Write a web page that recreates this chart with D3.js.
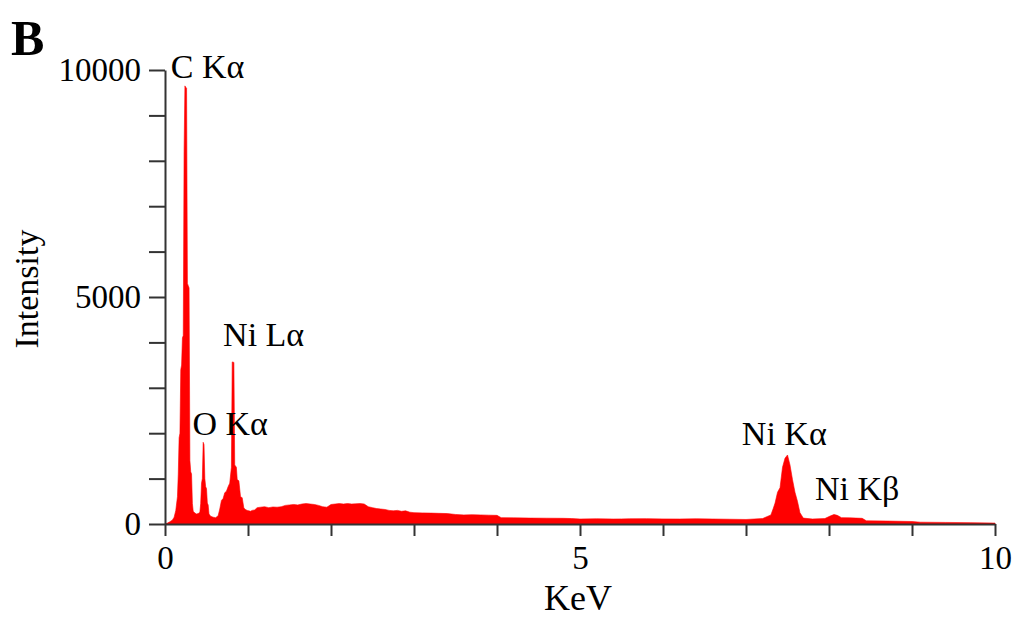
<!DOCTYPE html>
<html>
<head>
<meta charset="utf-8">
<script src="https://cdn.jsdelivr.net/npm/d3@7"></script>
<style>
  html, body { margin: 0; padding: 0; background: #fff; }
  svg { display: block; font-family: "Liberation Serif", "Times New Roman", serif; }
</style>
</head>
<body>
<svg id="chart" width="1016" height="618"></svg>
<script>
// EDS spectrum: energy (keV) and counts per channel
const energy = [
  0.00, 0.03, 0.06, 0.09, 0.11, 0.13, 0.15, 0.16, 0.17, 0.18,
  0.19, 0.20, 0.21, 0.22, 0.23, 0.24, 0.25, 0.26, 0.27, 0.28,
  0.29, 0.30, 0.31, 0.32, 0.33, 0.34, 0.36, 0.38, 0.40, 0.42,
  0.43, 0.44, 0.45, 0.46, 0.47, 0.48, 0.49, 0.50, 0.51, 0.52,
  0.53, 0.55, 0.58, 0.61, 0.64, 0.66, 0.68, 0.70, 0.72, 0.74,
  0.76, 0.78, 0.80, 0.81, 0.83, 0.84, 0.86, 0.87, 0.89, 0.91,
  0.93, 0.95, 0.97, 0.99, 1.01, 1.03, 1.05, 1.08, 1.11, 1.15,
  1.20, 1.25, 1.30, 1.35, 1.40, 1.45, 1.50, 1.55, 1.60, 1.65,
  1.70, 1.75, 1.80, 1.85, 1.90, 1.95, 2.00, 2.05, 2.10, 2.15,
  2.20, 2.25, 2.30, 2.35, 2.40, 2.45, 2.50, 2.55, 2.60, 2.65,
  2.70, 2.75, 2.80, 2.85, 2.90, 2.95, 3.00, 3.10, 3.20, 3.30,
  3.40, 3.50, 3.60, 3.70, 3.80, 3.90, 4.00, 4.05, 4.20, 4.40,
  4.60, 4.80, 4.90, 5.00, 5.20, 5.40, 5.50, 5.60, 5.80, 6.00,
  6.20, 6.40, 6.60, 6.80, 7.00, 7.20, 7.30, 7.33, 7.35, 7.38,
  7.41, 7.44, 7.47, 7.50, 7.53, 7.56, 7.59, 7.62, 7.65, 7.69,
  7.80, 7.95, 8.02, 8.06, 8.10, 8.15, 8.25, 8.40, 8.45, 8.70,
  9.00, 9.10, 9.40, 9.70, 10.00
];
const counts = [
  0, 20, 50, 90, 150, 300, 600, 1100, 1900, 2000,
  3400, 3500, 4100, 4150, 8200, 9650, 9620, 9600, 5300, 5250,
  5200, 1400, 1150, 1100, 450, 280, 240, 220, 230, 260,
  450, 900, 1000, 1800, 1750, 1000, 820, 780, 460, 420,
  220, 170, 150, 140, 180, 330, 520, 560, 690, 720,
  820, 900, 1250, 3570, 3560, 1300, 1250, 980, 950, 600,
  580, 350, 320, 300, 290, 280, 300, 310, 360, 370,
  380, 360, 375, 370, 380, 410, 420, 430, 420, 440,
  450, 440, 430, 410, 380, 370, 430, 440, 450, 440,
  450, 440, 445, 450, 440, 380, 360, 340, 330, 320,
  300, 290, 300, 280, 290, 260, 250, 245, 240, 235,
  230, 210, 200, 205, 200, 195, 190, 140, 135, 130,
  128, 125, 120, 110, 115, 110, 112, 115, 118, 112,
  110, 115, 110, 105, 100, 120, 200, 350, 460, 700,
  800, 1250, 1450, 1520, 1300, 980, 700, 500, 250, 130,
  110, 120, 180, 210, 190, 140, 135, 125, 70, 65,
  55, 40, 35, 30, 20
];

// Axis ticks
const xTicks = [0, 1, 2, 3, 4, 5, 6, 7, 8, 9, 10];
const xTickLabels = [0, 5, 10];
const yTicks = [0, 1000, 2000, 3000, 4000, 5000, 6000, 7000, 8000, 9000, 10000];
const yTickLabels = [0, 5000, 10000];

// Peak annotations
const peakNames = ["C K\u03B1", "O K\u03B1", "Ni L\u03B1", "Ni K\u03B1", "Ni K\u03B2"];
const peakEnergy = [0.07, 0.33, 0.70, 6.95, 7.83];
const peakLabelCounts = [9830, 1960, 3930, 1740, 530];

const svg = d3.select("#chart");
const x = d3.scaleLinear().domain([0, 10]).range([165, 995]);
const y = d3.scaleLinear().domain([0, 10000]).range([524, 70]);

const spectrum = energy.map((e, i) => ({ e, c: counts[i] }));

// Filled spectrum
svg.append("path")
  .datum(spectrum)
  .attr("fill", "#ff0000")
  .attr("stroke", "#ff0000")
  .attr("stroke-width", 0.6)
  .attr("d", d3.area()
    .x(d => x(d.e))
    .y0(y(0))
    .y1(d => y(d.c)));

// Axes
const xAxis = d3.axisBottom(x)
  .tickValues(xTicks)
  .tickSize(12)
  .tickPadding(10)
  .tickFormat(d => xTickLabels.includes(d) ? d : "");
const yAxis = d3.axisLeft(y)
  .tickValues(yTicks)
  .tickSize(16)
  .tickPadding(8)
  .tickFormat(d => yTickLabels.includes(d) ? d : "");

function styleAxis(g) {
  g.select(".domain").attr("stroke", "#333").attr("stroke-width", 2);
  g.selectAll(".tick line").attr("stroke", "#333").attr("stroke-width", 2);
  g.selectAll(".tick text")
    .attr("fill", "#000")
    .style("font-family", "'Liberation Serif', serif")
    .style("font-size", "33px");
}

svg.append("g")
  .attr("transform", `translate(0,${y(0)})`)
  .call(xAxis.tickSizeOuter(0))
  .call(styleAxis);

svg.append("g")
  .attr("transform", `translate(${x(0)},0)`)
  .call(yAxis.tickSizeOuter(0))
  .call(styleAxis);

// Axis titles
svg.append("text")
  .attr("x", 578)
  .attr("y", 610)
  .attr("text-anchor", "middle")
  .attr("fill", "#000")
  .style("font-size", "36px")
  .text("KeV");

svg.append("text")
  .attr("transform", "translate(38,289) rotate(-90)")
  .attr("text-anchor", "middle")
  .attr("fill", "#000")
  .style("font-size", "34px")
  .text("Intensity");

// Panel letter
svg.append("text")
  .attr("x", 11)
  .attr("y", 55)
  .attr("fill", "#000")
  .style("font-size", "50px")
  .style("font-weight", "bold")
  .text("B");

// Peak labels
svg.selectAll("text.peak")
  .data(peakNames)
  .join("text")
  .attr("class", "peak")
  .attr("x", (d, i) => x(peakEnergy[i]))
  .attr("y", (d, i) => y(peakLabelCounts[i]))
  .attr("fill", "#000")
  .style("font-size", "34px")
  .text(d => d);
</script>
</body>
</html>
